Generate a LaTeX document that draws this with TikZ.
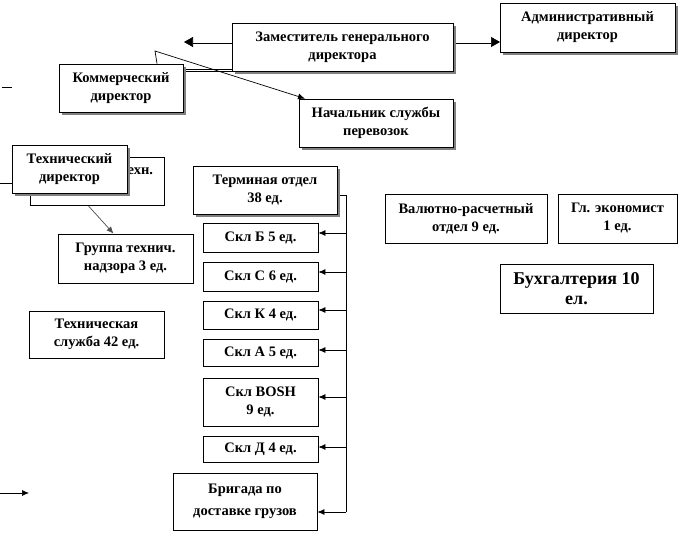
\documentclass[tikz,border=0pt]{standalone}
\usepackage{fontspec}
\setmainfont{Liberation Serif}
\usetikzlibrary{arrows.meta,shadows}
\pgfdeclarelayer{bg}
\pgfsetlayers{bg,main}
\newcommand\bx[7]{\node[#1, minimum width={(#5-#3)*1pt}, minimum height={(#6-#4)*1pt}] (#2) at ({(#3+#5)/2},{(#4+#6)/2}) {#7};}
\tikzset{
  box/.style={draw, fill=white, line width=0.8pt, align=center, inner sep=0pt,
    font=\fontsize{14.5}{18}\selectfont\bfseries},
  sbox/.style={box, drop shadow={shadow xshift=3pt, shadow yshift=-3pt, fill=black!50, opacity=1}},
  arr/.style={line width=0.7pt, -{Latex[length=7pt,width=6pt]}},
  plain/.style={line width=0.7pt},
  dbl/.style={double, double distance=1.6pt, line width=0.7pt},
  dblarr/.style={dbl, -{Triangle[length=9pt,width=10pt]}}
}
\begin{document}
\begin{tikzpicture}[x=1pt,y=-1pt]
\useasboundingbox (0,0) rectangle (686,544);
% boxes
\bx{sbox}{zam}{232}{23}{453}{71}{Заместитель генерального\\директора}
\bx{sbox}{adm}{500}{3}{675}{52}{Административный\\директор}
\bx{sbox}{kom}{59}{64}{183}{112}{Коммерческий\\директор}
\bx{sbox}{nach}{299}{99}{453}{147}{Начальник службы\\перевозок}
\bx{box, text width=112pt, align=right}{ztd}{30}{157}{164}{205}{техн.\\\phantom{д}}
\bx{sbox}{tech}{12}{145}{127}{193}{Технический\\директор}
\bx{box}{grp}{58}{234}{193}{283}{Группа технич.\\надзора 3 ед.}
\bx{box}{tsl}{29}{311}{164}{358}{Техническая\\служба 42 ед.}
\bx{sbox}{term}{193}{166}{337}{214}{Терминая отдел\\38 ед.}
\bx{box}{skb}{203}{223}{318}{252}{Скл Б 5 ед.}
\bx{box}{skc}{203}{262}{318}{291}{Скл С 6 ед.}
\bx{box}{skk}{203}{301}{318}{329}{Скл К 4 ед.}
\bx{box}{ska}{203}{339}{318}{366}{Скл А 5 ед.}
\bx{box}{skbosh}{203}{378}{318}{426}{Скл BOSH\\9 ед.}
\bx{box}{skd}{203}{436}{318}{462}{Скл Д 4 ед.}
\bx{box, font=\fontsize{14.5}{22}\selectfont\bfseries}{brig}{173}{473}{317}{530}{Бригада по\\доставке грузов}
\bx{box}{val}{385}{194}{547}{243}{Валютно-расчетный\\отдел 9 ед.}
\bx{box}{eco}{558}{194}{677}{243}{Гл. экономист\\1 ед.}
\bx{box, font=\fontsize{18}{20}\selectfont\bfseries}{buh}{500}{264}{653}{313}{Бухгалтерия 10\\ел.}
% free coordinates
\coordinate (zl) at (184,42);
\coordinate (ar) at (500,42);
\coordinate (kb) at (155,51);
\coordinate (d1) at (2,87);
\coordinate (d2) at (12,87);
\coordinate (tl) at (0,183);
\coordinate (la) at (0,493);
\coordinate (lb) at (29,493);
\coordinate (bt) at (346,195);
\coordinate (bb) at (346,512);
% connectors (behind boxes)
\begin{pgfonlayer}{bg}
\draw[dblarr] (zl -| zam.west) -- (zl);
\draw[dblarr] (ar -| zam.east) -- (ar);
\draw[dbl] ([yshift=1pt]zam.south west) -- ([yshift=1pt]zam.south west -| kom.east);
\draw[arr] ([xshift=36pt]kom.north) -- (kb) -- ([xshift=-71pt]nach.north);
\draw[plain] (d1) -- (d2);
\draw[plain] (tl) -- (tech.west |- tl);
\draw[arr] (la) -- (lb);
\draw[arr, black!70] ([xshift=-9pt]ztd.south) -- ([xshift=-12pt]grp.north);
\draw[plain] (term.east |- bt) -- (bt) -- (bb);
\foreach \n/\y in {skb/233, skc/272, skk/310, ska/350, skbosh/397, skd/447, brig/512}
  \draw[arr] (346,\y) -- (\n.east |- 0,\y);
\end{pgfonlayer}
\end{tikzpicture}
\end{document}
